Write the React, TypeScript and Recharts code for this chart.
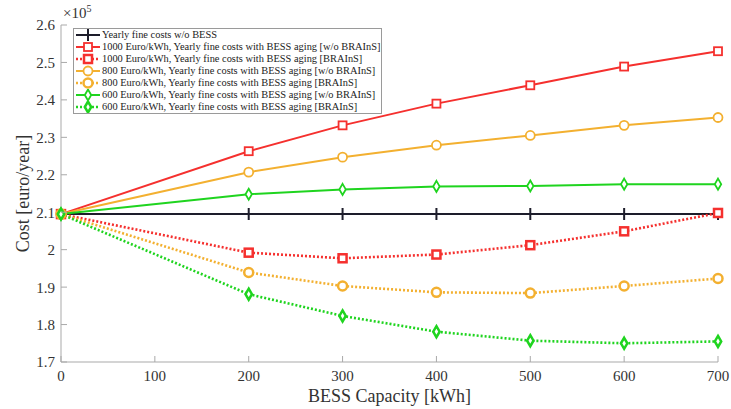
import React from 'react';
import { LineChart, Line, XAxis, YAxis, Legend, Label } from 'recharts';

// values, cost in units of 10^5 euro/year
const capacity = [0, 200, 300, 400, 500, 600, 700];
const noBess = [2.095, 2.095, 2.095, 2.095, 2.095, 2.095, 2.095];
const red1000 = [2.095, 2.263, 2.332, 2.39, 2.439, 2.489, 2.53];
const red1000Brains = [2.095, 1.992, 1.977, 1.987, 2.012, 2.049, 2.098];
const orange800 = [2.095, 2.207, 2.247, 2.279, 2.305, 2.332, 2.353];
const orange800Brains = [2.095, 1.939, 1.903, 1.886, 1.884, 1.903, 1.923];
const green600 = [2.095, 2.148, 2.161, 2.169, 2.17, 2.175, 2.175];
const green600Brains = [2.095, 1.881, 1.823, 1.781, 1.757, 1.75, 1.755];

const xTicks = [0, 100, 200, 300, 400, 500, 600, 700];
const yTicks = [1.7, 1.8, 1.9, 2.0, 2.1, 2.2, 2.3, 2.4, 2.5, 2.6];

const RED = '#f5302e';
const ORANGE = '#f3b030';
const GREEN = '#1fd41f';
const BLACK = '#1d1d2b';
const AXIS = '#a9a9a9';
const FONT = 'Liberation Serif, DejaVu Serif, serif';

type Marker = 'plus' | 'square' | 'circle' | 'diamond';

const series: { key: string; name: string; color: string; dotted: boolean; marker: Marker; values: number[] }[] = [
  { key: 'noBess', name: 'Yearly fine costs w/o BESS', color: BLACK, dotted: false, marker: 'plus', values: noBess },
  { key: 'red1000', name: '1000 Euro/kWh, Yearly fine costs with BESS aging [w/o BRAInS]', color: RED, dotted: false, marker: 'square', values: red1000 },
  { key: 'red1000Brains', name: '1000 Euro/kWh, Yearly fine costs with BESS aging [BRAInS]', color: RED, dotted: true, marker: 'square', values: red1000Brains },
  { key: 'orange800', name: '800 Euro/kWh, Yearly fine costs with BESS aging [w/o BRAInS]', color: ORANGE, dotted: false, marker: 'circle', values: orange800 },
  { key: 'orange800Brains', name: '800 Euro/kWh, Yearly fine costs with BESS aging [BRAInS]', color: ORANGE, dotted: true, marker: 'circle', values: orange800Brains },
  { key: 'green600', name: '600 Euro/kWh, Yearly fine costs with BESS aging [w/o BRAInS]', color: GREEN, dotted: false, marker: 'diamond', values: green600 },
  { key: 'green600Brains', name: '600 Euro/kWh, Yearly fine costs with BESS aging [BRAInS]', color: GREEN, dotted: true, marker: 'diamond', values: green600Brains },
];

const data = capacity.map((c, i) => {
  const row: Record<string, number> = { capacity: c };
  series.forEach(s => { row[s.key] = s.values[i]; });
  return row;
});

const drawMarker = (marker: Marker, cx: number, cy: number, color: string, sw: number, key?: string) => {
  switch (marker) {
    case 'plus':
      return (
        <g key={key}>
          <line x1={cx} x2={cx} y1={cy - 6} y2={cy + 6} stroke={color} strokeWidth={2} />
          <line x1={cx - 4} x2={cx + 4} y1={cy} y2={cy} stroke={color} strokeWidth={2} />
        </g>
      );
    case 'square':
      return <rect key={key} x={cx - 4} y={cy - 4} width={8} height={8} fill="#fff" stroke={color} strokeWidth={sw} />;
    case 'circle':
      return <circle key={key} cx={cx} cy={cy} r={4.5} fill="#fff" stroke={color} strokeWidth={sw} />;
    default:
      return (
        <path key={key} d={`M${cx},${cy - 5.5} L${cx + 3.2},${cy} L${cx},${cy + 5.5} L${cx - 3.2},${cy} Z`}
          fill="#fff" stroke={color} strokeWidth={sw} />
      );
  }
};

const XTick = (props: any) => {
  const { x, y, payload } = props;
  return (
    <g>
      <line x1={x} x2={x} y1={y - 8} y2={y - 14} stroke={AXIS} />
      <text x={x} y={y} dy="0.75em" textAnchor="middle" fill="#333" style={{ fontFamily: FONT, fontSize: 15 }}>
        {payload.value}
      </text>
    </g>
  );
};

const YTick = (props: any) => {
  const { x, y, payload } = props;
  return (
    <g>
      <line x1={x + 6} x2={x + 12} y1={y} y2={y} stroke={AXIS} />
      <text x={x} y={y} dy="0.36em" textAnchor="end" fill="#333" style={{ fontFamily: FONT, fontSize: 15 }}>
        {Number(payload.value.toFixed(1)).toString()}
      </text>
    </g>
  );
};

const ExponentLabel = (props: any) => {
  const { viewBox } = props;
  const x = viewBox.x + viewBox.width + 2;
  const y = viewBox.y - 7;
  return (
    <text x={x} y={y} fill="#333" style={{ fontFamily: FONT, fontSize: 15 }}>
      ×10
      <tspan dy={-6} style={{ fontSize: 10 }}>5</tspan>
    </text>
  );
};

const renderLegend = () => (
  <div style={{
    border: '1px solid #9a9a9a', background: '#fff', fontFamily: FONT, fontSize: 10.4,
    color: '#222', width: 309, boxSizing: 'border-box',
  }}>
    {series.map(s => (
      <div key={s.key} style={{ display: 'flex', alignItems: 'center', height: 12, whiteSpace: 'nowrap' }}>
        <svg width={28} height={12} style={{ flex: 'none' }}>
          <line x1={2} x2={26} y1={6} y2={6} stroke={s.color} strokeWidth={s.dotted ? 2.5 : 2}
            strokeDasharray={s.dotted ? '2 2' : undefined} />
          {drawMarker(s.marker, 14, 6, s.color, s.dotted ? 2.5 : 1.8)}
        </svg>
        <span style={{ lineHeight: '12px' }}>{s.name}</span>
      </div>
    ))}
  </div>
);

export default function App() {
  return (
    <div style={{ position: 'absolute', left: 0, top: 0, background: '#fff', fontFamily: FONT }}>
      <LineChart width={731} height={409} data={data} margin={{ top: 25, right: 13, bottom: 0, left: 0 }}
        style={{ fontFamily: FONT }}>
        <XAxis
          dataKey="capacity"
          type="number"
          domain={[0, 700]}
          ticks={xTicks}
          height={47}
          stroke={AXIS}
          tickLine={false}
          tickSize={0}
          tickMargin={8}
          tick={<XTick />}
        >
          <Label value="BESS Capacity [kWh]" position="insideBottom" offset={7}
            style={{ fontSize: 18, fill: '#333', fontFamily: FONT }} />
        </XAxis>
        <YAxis
          type="number"
          domain={[1.7, 2.6]}
          ticks={yTicks}
          width={61}
          stroke={AXIS}
          tickLine={false}
          tickSize={0}
          tickMargin={6}
          tick={<YTick />}
          allowDataOverflow
        >
          <Label value="Cost [euro/year]" angle={-90} position="insideLeft" offset={23}
            style={{ fontSize: 18, fill: '#333', fontFamily: FONT, textAnchor: 'middle' }} />
          <Label position="insideTopLeft" content={<ExponentLabel />} />
        </YAxis>
        <Legend
          layout="vertical"
          align="center"
          verticalAlign="middle"
          content={renderLegend}
          wrapperStyle={{ left: 73, top: 28, width: 309 }}
        />
        {series.map(s => (
          <Line
            key={s.key}
            dataKey={s.key}
            name={s.name}
            stroke={s.color}
            strokeWidth={s.dotted ? 2.6 : 2}
            strokeDasharray={s.dotted ? '2 2' : undefined}
            isAnimationActive={false}
            dot={(p: any) => drawMarker(s.marker, p.cx, p.cy, s.color, s.dotted ? 2.5 : 1.8, `${s.key}-${p.index}`)}
            activeDot={false}
          />
        ))}
      </LineChart>
    </div>
  );
}
